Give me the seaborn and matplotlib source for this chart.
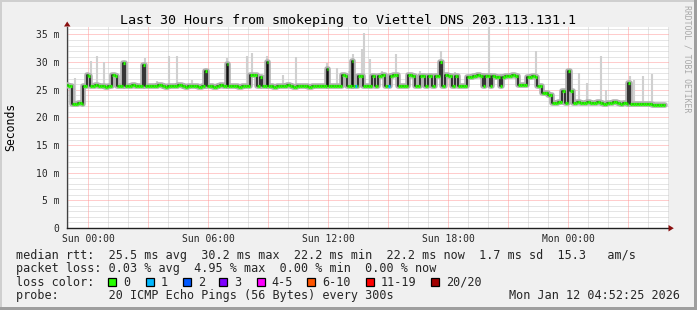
import numpy as np
import pandas as pd
import matplotlib
matplotlib.use("Agg")
import matplotlib.pyplot as plt
import seaborn as sns
from matplotlib.patches import Rectangle, Polygon

# ---------------- data ----------------
title = "Last 30 Hours from smokeping to Viettel DNS 203.113.131.1"
start_hour = -7 / 6      # Sat 22:50, hours relative to Sun 00:00
step_hours = 1 / 12      # 5 minute steps (probe every 300 s)

median_ms = [
    25.8, 25.8, 25.7, 25.7, 22.5, 22.5, 22.4, 22.4, 22.6, 22.6, 22.5, 25.7, 25.7, 27.6, 27.5, 25.6, 25.6, 25.7, 25.8, 25.8,
    25.6, 25.6, 25.7, 25.7, 25.5, 25.5, 25.7, 25.7, 27.6, 27.6, 27.5, 25.7, 25.7, 25.6, 25.6, 29.8, 25.6, 25.6, 25.6, 25.6,
    25.8, 25.8, 25.7, 25.7, 25.6, 25.6, 25.6, 29.5, 25.6, 25.6, 25.6, 25.6, 25.7, 25.7, 25.6, 25.6, 25.8, 25.8, 25.6, 25.6,
    25.5, 25.5, 25.7, 25.7, 25.6, 25.6, 25.6, 25.6, 25.9, 25.9, 25.7, 25.7, 25.5, 25.5, 25.6, 25.6, 25.7, 25.7, 25.6, 25.6,
    25.5, 25.5, 25.6, 25.6, 28.4, 25.6, 25.6, 25.7, 25.7, 25.5, 25.5, 25.6, 25.6, 25.8, 25.8, 25.6, 25.6, 29.6, 25.6, 25.6,
    25.6, 25.6, 25.7, 25.7, 25.5, 25.5, 25.6, 25.6, 25.7, 25.7, 25.6, 27.7, 27.7, 27.6, 27.6, 25.7, 25.7, 27.3, 25.6, 25.6,
    25.6, 30.0, 25.6, 25.6, 25.6, 25.5, 25.5, 25.7, 25.7, 25.6, 25.6, 25.6, 25.6, 25.8, 25.8, 25.6, 25.6, 25.5, 25.5, 25.6,
    25.6, 25.6, 25.7, 25.7, 25.6, 25.6, 25.5, 25.5, 25.6, 25.6, 25.7, 25.7, 25.6, 25.6, 25.6, 25.6, 25.7, 28.7, 25.6, 25.6,
    25.6, 25.6, 25.7, 25.7, 25.6, 25.6, 27.6, 27.6, 27.5, 25.7, 25.7, 25.7, 30.2, 25.7, 25.7, 25.7, 27.5, 27.5, 27.4, 25.6,
    25.6, 25.6, 25.7, 25.7, 27.5, 27.5, 25.6, 25.6, 27.5, 27.5, 27.6, 27.6, 25.6, 25.6, 25.6, 27.5, 27.5, 27.6, 27.6, 27.6,
    25.7, 25.7, 25.6, 25.6, 25.6, 25.6, 27.6, 27.6, 27.5, 27.5, 25.7, 25.7, 25.6, 27.5, 27.5, 27.5, 25.6, 25.6, 27.5, 27.5,
    25.6, 25.6, 27.5, 27.5, 27.5, 30.1, 25.6, 25.6, 27.6, 27.6, 27.5, 27.5, 25.6, 25.6, 27.4, 27.4, 25.7, 25.7, 25.6, 25.6,
    25.6, 27.3, 27.3, 27.3, 27.3, 27.5, 27.5, 27.6, 27.6, 27.5, 27.4, 25.6, 27.4, 27.4, 27.4, 25.7, 27.4, 27.4, 27.3, 27.3,
    27.3, 25.7, 27.3, 27.3, 27.4, 27.4, 27.4, 27.4, 27.6, 27.6, 27.4, 27.4, 25.8, 25.9, 25.9, 25.9, 25.8, 27.3, 27.3, 27.3,
    27.4, 27.4, 27.3, 25.7, 25.7, 25.7, 24.5, 24.5, 24.4, 24.4, 24.1, 24.1, 22.6, 22.6, 22.6, 22.6, 22.7, 22.7, 24.7, 24.7,
    22.6, 22.6, 28.4, 24.7, 24.7, 22.6, 22.6, 22.7, 22.7, 22.6, 22.6, 22.6, 22.6, 22.7, 22.7, 22.6, 22.6, 22.6, 22.6, 22.7,
    22.7, 22.6, 22.6, 22.5, 22.5, 22.6, 22.6, 22.6, 22.6, 22.7, 22.7, 22.6, 22.6, 22.5, 22.5, 22.6, 22.6, 22.5, 26.2, 22.4,
    22.4, 22.4, 22.5, 22.5, 22.4, 22.4, 22.4, 22.4, 22.5, 22.5, 22.4, 22.4, 22.3, 22.3, 22.3, 22.3, 22.3, 22.3, 22.2, 22.2,
]
loss_idx = [174, 194]
loss_count = [1, 1]

spike_hours = [-0.67, 0.12, 0.45, 0.79, 2.82, 3.45, 4.04, 4.45, 5.2, 5.87,
               6.95, 7.95, 8.2, 8.95, 9.74, 10.4, 11.95, 12.44, 13.03, 13.22,
               13.69, 13.81, 14.09, 14.69, 15.4, 16.59, 17.62, 18.34, 20.04, 22.37,
               24.54, 24.92, 25.62, 25.87, 27.09, 27.29, 27.75, 28.2]
spike_top_ms = [27.2, 30.2, 31.1, 30.0, 30.8, 26.6, 31.1, 31.1, 26.7, 29.0,
                30.8, 31.1, 31.7, 31.1, 27.6, 30.9, 29.9, 29.0, 28.4, 31.5,
                32.3, 35.3, 30.5, 28.4, 31.4, 28.4, 32.0, 28.2, 36.3, 32.0,
                28.1, 26.3, 31.1, 25.0, 27.4, 26.8, 27.4, 27.9]

xtick_hours = [0, 6, 12, 18, 24]
xtick_labels = ["Sun 00:00", "Sun 06:00", "Sun 12:00", "Sun 18:00", "Mon 00:00"]
ytick_vals = [0, 5, 10, 15, 20, 25, 30, 35]
ytick_labels = ["0", "5 m", "10 m", "15 m", "20 m", "25 m", "30 m", "35 m"]

loss_labels = ["0", "1", "2", "3", "4-5", "6-10", "11-19", "20/20"]
loss_colors = ["#26ff00", "#00b8ff", "#0059ff", "#7e00ff", "#ff00ff",
               "#ff5500", "#ff0000", "#a10000"]
loss_color_of_count = {0: "#26ff00", 1: "#00b8ff", 2: "#0059ff", 3: "#7e00ff"}

line_rtt = "median rtt:  25.5 ms avg  30.2 ms max  22.2 ms min  22.2 ms now  1.7 ms sd  15.3   am/s"
line_loss = "packet loss: 0.03 % avg  4.95 % max  0.00 % min  0.00 % now"
line_color = "loss color:"
line_probe = "probe:       20 ICMP Echo Pings (56 Bytes) every 300s"
stamp = "Mon Jan 12 04:52:25 2026"
watermark = "RRDTOOL / TOBI OETIKER"

# ---------------- style ----------------
sns.set_style("white")
plt.rcParams["font.family"] = ["DejaVu Sans Mono", "DejaVu Sans"]

W, H = 697, 310
fig = plt.figure(figsize=(W / 100, H / 100), dpi=100, facecolor="#f0f0f0")

ax = fig.add_axes([67 / W, 82 / H, 602 / W, 201 / H])
ax.set_facecolor("white")
xmin, xmax = -1.065, 29.035
ymax = 36.35
ax.set_xlim(xmin, xmax)
ax.set_ylim(0, ymax)

dot = (0, (1, 1))
for h in range(-1, 30):
    if xmin < h < xmax:
        major = (h % 3 == 0)
        ax.axvline(h, color="#ff9a9a" if major else "#cccccc", lw=0.72,
                   ls=dot, zorder=1 if major else 0.5)
for v in range(1, 37):
    major = (v % 5 == 0)
    ax.axhline(v, color="#ff9a9a" if major else "#cccccc", lw=0.72,
               ls=dot, zorder=1 if major else 0.5)

n = len(median_ms)
hours = start_hour + np.arange(n) * step_hours
df = pd.DataFrame({"hour": hours, "median": median_ms})
df_step = pd.concat([df, pd.DataFrame({"hour": [hours[-1] + step_hours],
                                       "median": [median_ms[-1]]})],
                    ignore_index=True)

# smoke spikes (light grey)
spike_idx = np.clip(((np.array(spike_hours) - start_hour) / step_hours).astype(int), 0, n - 1)
spike_base = np.array(median_ms)[spike_idx]
ax.vlines(spike_hours, spike_base, spike_top_ms, color="#d0d0d0", lw=1.5, zorder=2)

# smoke halo around the median
sns.lineplot(data=df_step, x="hour", y="median", drawstyle="steps-post",
             color="#b0b0b0", lw=4.0, ax=ax, legend=False, zorder=3)
# dark median step line
sns.lineplot(data=df_step, x="hour", y="median", drawstyle="steps-post",
             color="#111111", lw=1.1, ax=ax, legend=False, zorder=4)
# loss coloured median segments
seg_colors = [loss_color_of_count[0]] * n
for i, c in zip(loss_idx, loss_count):
    seg_colors[i] = loss_color_of_count[c]
ax.hlines(df["median"], df["hour"], df["hour"] + step_hours,
          colors=seg_colors, lw=2.3, zorder=5)

ax.set_xlabel("")
ax.set_ylabel("")
ax.set_xticks(xtick_hours)
ax.set_xticklabels(xtick_labels)
ax.set_yticks(ytick_vals)
ax.set_yticklabels(ytick_labels)
ax.tick_params(axis="both", labelsize=7, length=2, width=0.7, color="#404040",
               direction="out")
ax.tick_params(axis="x", pad=2.5)
ax.tick_params(axis="y", pad=3.5)
for s in ["top", "right"]:
    ax.spines[s].set_visible(False)
ax.spines["left"].set_color("#404040")
ax.spines["bottom"].set_color("#202020")
ax.spines["left"].set_linewidth(0.9)
ax.spines["bottom"].set_linewidth(1.0)

# ---------------- overlay in pixel coords ----------------
ov = fig.add_axes([0, 0, 1, 1], zorder=10)
ov.set_xlim(0, W)
ov.set_ylim(H, 0)
ov.axis("off")
ov.patch.set_alpha(0)

ov.add_patch(Rectangle((0, 0), W, 2, color="#cfcfcf", lw=0))
ov.add_patch(Rectangle((0, 0), 2, H, color="#cfcfcf", lw=0))
ov.add_patch(Rectangle((W - 3, 0), 3, H, color="#9e9e9e", lw=0))
ov.add_patch(Rectangle((0, H - 3), W, 3, color="#9e9e9e", lw=0))

ov.add_patch(Polygon([(64, 26.5), (70.5, 26.5), (67.2, 21.5)], closed=True,
                     color="#8a1010", lw=0))
ov.add_patch(Polygon([(668.5, 225), (668.5, 231.5), (673.8, 228.2)], closed=True,
                     color="#8a1010", lw=0))

ov.text(W / 2, 24, title, ha="center", va="baseline", fontsize=9.6, color="black")
ov.text(10.5, 127, "Seconds", rotation=90, ha="center", va="center",
        fontsize=8.3, color="black")
ov.text(687.5, 5, watermark, rotation=270, ha="center", va="top",
        fontsize=5.9, color="#a8a8a8")

fs = 8.5
ov.text(16, 258.5, line_rtt, ha="left", va="baseline", fontsize=fs)
ov.text(16, 272, line_loss, ha="left", va="baseline", fontsize=fs)
ov.text(16, 285.5, line_color, ha="left", va="baseline", fontsize=fs)
ov.text(16, 298.8, line_probe, ha="left", va="baseline", fontsize=fs)
ov.text(680, 298.8, stamp, ha="right", va="baseline", fontsize=fs)

sq_x = [108.3, 145.7, 182.7, 219.3, 256.7, 307.3, 366.0, 431.0]
for x, lab, col in zip(sq_x, loss_labels, loss_colors):
    ov.add_patch(Rectangle((x, 278), 8, 8, facecolor=col, edgecolor="black", lw=0.9))
    ov.text(x + 15, 285.5, lab, ha="left", va="baseline", fontsize=fs)

fig.savefig("out.png", dpi=100, facecolor=fig.get_facecolor())
